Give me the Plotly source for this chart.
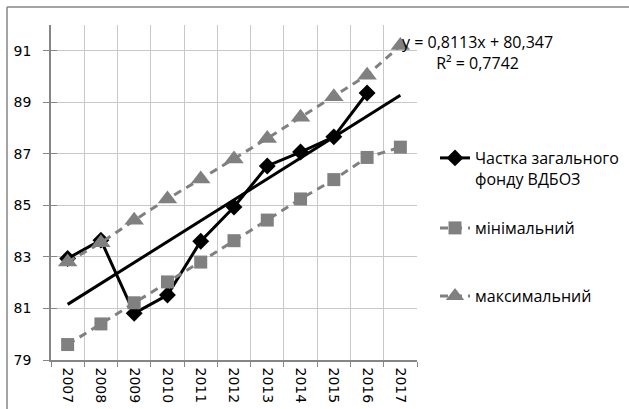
import plotly.graph_objects as go

years = ["2007", "2008", "2009", "2010", "2011", "2012", "2013", "2014", "2015", "2016", "2017"]
share = [82.94, 83.65, 80.81, 81.52, 83.61, 84.94, 86.53, 87.07, 87.66, 89.36]
minimal = [79.6, 80.4, 81.22, 82.03, 82.8, 83.63, 84.43, 85.25, 86.0, 86.86, 87.26]
maximal = [82.8, 83.55, 84.42, 85.25, 86.02, 86.8, 87.6, 88.42, 89.22, 90.05, 91.2]
trend_slope = 0.8113
trend_intercept = 80.347
trend_text = "y = 0,8113x + 80,347<br>R² = 0,7742"
y_ticks = [79, 81, 83, 85, 87, 89, 91]

W, H = 629, 409
L, R, T, B = 51, 417, 25, 360

trend_y = [trend_slope * (i + 1) + trend_intercept for i in range(len(years))]

gray = "#808080"
tfont = dict(family="DejaVu Sans", size=14, color="#000000")
lfont = dict(family="Open Sans", size=16, color="#000000")


def px(xp):
    return (xp - L) / (R - L)


def py(yp):
    return (B - yp) / (B - T)


fig = go.Figure()
fig.add_trace(go.Scatter(
    x=years[:len(share)], y=share, mode="lines+markers",
    name="Частка загального<br>фонду ВДБОЗ", legend="legend",
    line=dict(color="black", width=3),
    marker=dict(symbol="diamond", size=13, color="black"),
))
fig.add_trace(go.Scatter(
    x=years, y=minimal, mode="lines+markers", name="мінімальний", legend="legend2",
    line=dict(color=gray, width=3, dash="8px,6px"),
    marker=dict(symbol="square", size=13, color=gray),
))
fig.add_trace(go.Scatter(
    x=years, y=maximal, mode="lines+markers", name="максимальний", legend="legend3",
    line=dict(color=gray, width=3, dash="8px,6px"),
    marker=dict(symbol="triangle-up", size=17, color=gray),
))
fig.add_trace(go.Scatter(
    x=years, y=trend_y, mode="lines", showlegend=False,
    line=dict(color="black", width=3), hoverinfo="skip",
))
fig.add_trace(go.Scatter(x=years, y=[None] * len(years), yaxis="y2", showlegend=False, hoverinfo="skip"))

legend_common = dict(xanchor="left", yanchor="top", font=lfont, valign="top",
                     bgcolor="rgba(0,0,0,0)")

fig.update_layout(
    width=W, height=H,
    margin=dict(l=L, r=W - R, t=T, b=H - B, autoexpand=False),
    paper_bgcolor="white", plot_bgcolor="white",
    showlegend=True,
    legend=dict(x=px(435), y=py(141), **legend_common),
    legend2=dict(x=px(435), y=py(211), **legend_common),
    legend3=dict(x=px(435), y=py(279), **legend_common),
    xaxis=dict(
        type="category", range=[-0.5, len(years) - 0.5], tickson="boundaries",
        showgrid=True, gridcolor="#c8c8c8", gridwidth=1,
        showline=True, linecolor="#868686", linewidth=1.5,
        ticks="outside", ticklen=5, tickcolor="#868686",
        tickangle=90, tickfont=tfont, fixedrange=True, automargin=False,
        ticklabelstandoff=3,
    ),
    yaxis=dict(
        range=[79, 92], tickvals=y_ticks, ticktext=[str(v) for v in y_ticks],
        showgrid=True, gridcolor="#c8c8c8", gridwidth=1,
        showline=True, linecolor="#868686", linewidth=1.5,
        ticks="outside", ticklen=6, tickcolor="#868686",
        tickfont=tfont, zeroline=False, fixedrange=True, automargin=False,
        ticklabelstandoff=9,
    ),
    yaxis2=dict(
        overlaying="y", side="left", range=[79, 92], tickvals=y_ticks,
        showticklabels=False, showgrid=False, showline=False, automargin=False,
        ticks="inside", ticklen=6, tickcolor="#868686", zeroline=False,
    ),
    annotations=[dict(
        x=px(477), y=py(53), xref="paper", yref="paper", text=trend_text,
        xanchor="center", yanchor="middle",
        showarrow=False, align="center",
        font=dict(family="Open Sans", size=16, color="#000000"),
    )],
    shapes=[
        dict(type="line", xref="paper", yref="paper",
             x0=px(7), x1=px(640), y0=py(7), y1=py(7),
             line=dict(color="#868686", width=1.5)),
        dict(type="line", xref="paper", yref="paper",
             x0=px(7), x1=px(7), y0=py(7), y1=py(420),
             line=dict(color="#868686", width=1.5)),
    ],
)

fig.write_html(
    "out.html",
    config={"displayModeBar": False},
    post_script="document.body.style.margin='0px';document.body.style.overflow='hidden';",
)
